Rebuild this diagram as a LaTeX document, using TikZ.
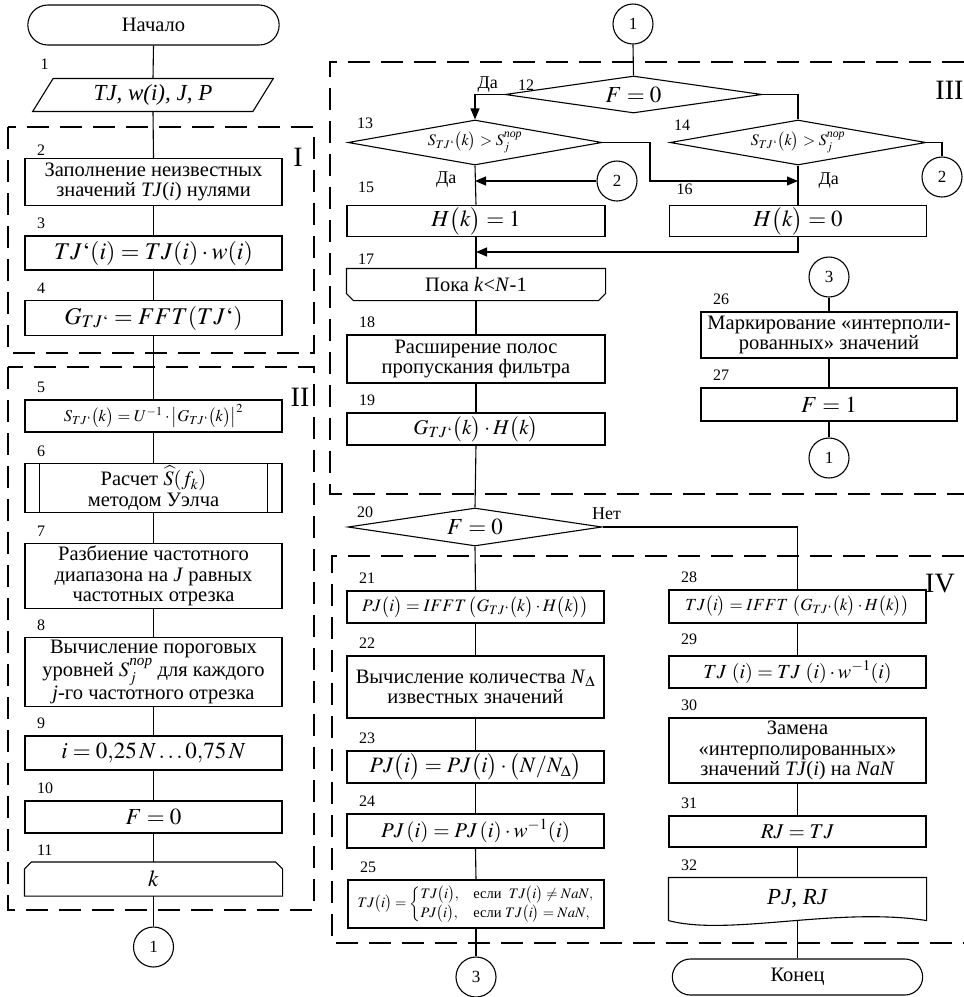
\documentclass[tikz,border=0pt]{standalone}
\usepackage{amsmath}
\usepackage{mathptmx}
\usepackage{fontspec}
\setmainfont{Liberation Serif}
\usetikzlibrary{arrows.meta,shapes.geometric,shapes.misc,calc}

\newcommand{\fsText}{\fontsize{20.5}{20.5}\selectfont}
\newcommand{\fsMath}{\fontsize{23}{24}\selectfont}
\newcommand{\fsBig}{\fontsize{24}{25}\selectfont}
\newcommand{\fsNum}{\fontsize{16}{17}\selectfont}
\newcommand{\fsLab}{\fontsize{18}{19}\selectfont}
\newcommand{\fsConn}{\fontsize{17}{18}\selectfont}
\newcommand{\fsRom}{\fontsize{28}{30}\selectfont}

\begin{document}
\begin{tikzpicture}[
    x=1pt, y=-1pt,
    line width=1.1pt,
    >={Triangle[length=11pt,width=9pt]},
    box/.style={
        draw,
        rectangle,
        align=center,
        minimum width=257,
        inner sep=2pt,
        font=\fsText
    },
    term/.style={
        draw,
        rounded rectangle,
        minimum width=258,
        minimum height=40,
        font=\fsText
    },
    io/.style={
        draw,
        trapezium,
        trapezium left angle=65,
        trapezium right angle=115,
        trapezium stretches=true,
        minimum width=241,
        minimum height=33,
        font=\fsMath
    },
    cond/.style={
        draw,
        diamond,
        aspect=6,
        inner sep=0pt,
        font=\fsMath
    },
    conn/.style={draw, circle, minimum size=40, inner sep=0pt, font=\fsConn},
    frame/.style={dash pattern=on 22pt off 11pt},
    num/.style={font=\fsNum, inner sep=1pt, anchor=south west, xshift=11pt, yshift=5pt},
    nr/.style={label={[num]north west:#1}},
    lab/.style={font=\fsLab, inner sep=1pt},
    rom/.style={font=\fsRom, inner sep=0pt},
    arrow/.style={->}
]

\useasboundingbox (0,0) rectangle (964,997);

% ============================================================
% Frames of the stages
% ============================================================

\draw[frame] (8,127) rectangle (314,353);
\draw[frame] (8,367) rectangle (314,910);
\draw[frame] (964,62) -- (330,62) -- (330,494) -- (964,494);
\draw[frame] (964,556) -- (332,556) -- (332,943) -- (964,943);

\node[rom] (stI)   at (298,157) {I};
\node[rom] (stII)  at (300,397) {II};
\node[rom, anchor=east] (stIII) at (964,90) {III};
\node[rom] (stIV)  at (940,584) {IV};

% ============================================================
% Left column: preparation
% ============================================================

\node[term] (start) at (153.5,25) {Начало};

\node[io, label={[num, xshift=-125pt, yshift=2pt]north:1}] (inp) at (153,95)
    {\textit{TJ, w(i), J, P}};

\node[box, minimum height=47, label={[num, yshift=-4pt]north west:2}] (b2) at (153.5,182)
    {Заполнение неизвестных\\значений \textit{TJ}(\textit{i}) нулями};

\node[box, minimum height=34, font=\fsBig, nr=3] (b3) at (153.5,253)
    {$TJ`(i) = TJ(i)\cdot w(i)$};

\node[box, minimum height=35, font=\fsBig, nr=4] (b4) at (153.5,318)
    {$G_{TJ`} = FFT(TJ`)$};

\node[box, minimum height=32, font=\fontsize{16.5}{18}\selectfont, nr=5] (b5) at (153.5,416)
    {$S_{TJ`}\bigl(k\bigr) = U^{-1}\cdot\bigl|G_{TJ`}\bigl(k\bigr)\bigr|^2$};

\node[box, minimum height=47, nr=6] (b6) at (153.5,488)
    {Расчет $\widehat{S}(f_k)$\\методом Уэлча};

\node[box, minimum height=65, nr=7] (b7) at (153.5,576)
    {Разбиение частотного\\диапазона на \textit{J} равных\\частотных отрезка};

\node[box, minimum height=63, nr=8] (b8) at (153.5,672)
    {Вычисление пороговых\\уровней $S_j^{\textit{пор}}$ для каждого\\\textit{j}-го частотного отрезка};

\node[box, minimum height=34, font=\fsMath, nr=9] (b9) at (153.5,753)
    {$i = 0{,}25\,N \ldots 0{,}75\,N$};

\node[box, minimum height=32, font=\fsMath, nr=10] (b10) at (153.5,817)
    {$F = 0$};

\node[box, draw=none, minimum height=33, font=\fsMath, nr=11] (b11) at (153.5,879)
    {$k$};

\node[conn] (c1a) at (153.5,947) {1};

% predefined process and loop end outlines
\draw ([xshift=15pt]b6.north west) -- ([xshift=15pt]b6.south west);
\draw ([xshift=-15pt]b6.north east) -- ([xshift=-15pt]b6.south east);
\draw ([xshift=7pt]b11.north west) -- ([xshift=-7pt]b11.north east)
    -- ([yshift=-7pt]b11.north east) -- (b11.south east)
    -- (b11.south west) -- ([yshift=-7pt]b11.north west) -- cycle;

\draw (start.south) -- (inp.north);
\draw (inp.south) -- (b2.north);
\draw (b2.south) -- (b3.north);
\draw (b3.south) -- (b4.north);
\draw (b4.south) -- (b5.north);
\draw (b5.south) -- (b6.north);
\draw (b6.south) -- (b7.north);
\draw (b7.south) -- (b8.north);
\draw (b8.south) -- (b9.north);
\draw (b9.south) -- (b10.north);
\draw (b10.south) -- (b11.north);
\draw (b11.south) -- (c1a.north);

% ============================================================
% Stage III: filter construction
% ============================================================

\node[conn] (c1top) at (633,24) {1};

\node[cond, minimum width=257, minimum height=37,
    label={[num, xshift=1pt, yshift=-3pt]west:12},
    label={[lab, anchor=south east, xshift=-5pt, yshift=1pt]west:Да}] (d12) at (633.5,94.5)
    {$F = 0$};

\node[cond, minimum width=254, minimum height=45, font=\fontsize{16}{17}\selectfont,
    label={[num, xshift=-3pt, yshift=7pt]west:13},
    label={[lab, anchor=north east, xshift=-17pt, yshift=-5pt]south:Да}] (d13) at (475,142.5)
    {$S_{TJ`}\bigl(k\bigr) > S_j^{\textit{пор}}$};

\node[cond, minimum width=256, minimum height=45, font=\fontsize{16}{17}\selectfont,
    label={[num, xshift=-8pt, yshift=5pt]west:14},
    label={[lab, anchor=north west, xshift=19pt, yshift=-6pt]south:Да}] (d14) at (798,142.5)
    {$S_{TJ`}\bigl(k\bigr) > S_j^{\textit{пор}}$};

\node[conn] (c2a) at (617,181) {2};
\node[conn] (c2b) at (942,177) {2};

\node[box, minimum width=258, minimum height=30, font=\fsMath,
    label={[num, xshift=-1pt, yshift=5pt]north west:15}] (b15) at (476,221)
    {$H\bigl(k\bigr) = 1$};

\node[box, minimum height=30, font=\fsMath,
    label={[num, xshift=-5pt, yshift=3pt]north west:16}] (b16) at (798,221)
    {$H\bigl(k\bigr) = 0$};

\node[box, draw=none, minimum width=258, minimum height=31,
    label={[num, xshift=-1pt, yshift=-3pt]north west:17}] (b17) at (476,284.5)
    {Пока \textit{k}<\textit{N}-1};

\node[box, minimum width=258, minimum height=48, nr=18] (b18) at (476,359)
    {Расширение полос\\пропускания фильтра};

\node[box, minimum width=258, minimum height=32, font=\fontsize{21}{22}\selectfont, nr=19] (b19) at (476,429)
    {$G_{TJ`}\bigl(k\bigr)\cdot H\bigl(k\bigr)$};

\coordinate (j13) at (650,181);
\coordinate (j16) at (476,252);

% loop start outline
\draw (b17.north west) -- (b17.north east)
    -- ([yshift=7pt]b17.south east) -- ([xshift=-7pt]b17.south east)
    -- ([xshift=7pt]b17.south west) -- ([yshift=7pt]b17.south west) -- cycle;

\draw (c1top.south) -- (d12.north);
\draw[arrow] (d12.west) -| (d13.north);
\draw (d12.east) -| (d14.north);
\draw (d13.south) -- (b15.north);
\draw[arrow] (c2a.west) -- (c2a.west -| d13.south);
\draw[arrow] (d13.east) -| (j13) -- (j13 -| d14.south);
\draw (d14.south) -- (b16.north);
\draw (d14.east) -| (c2b.north);
\draw (b15.south) -- (b17.north);
\draw[arrow] (b16.south) |- (j16);
\draw (b17.south) -- (b18.north);
\draw (b18.south) -- (b19.north);

% Marking branch
\node[conn] (c3b) at (829,277) {3};

\node[box, minimum width=256, minimum height=46, nr=26] (b26) at (829,335)
    {Маркирование «интерполи-\\рованных» значений};

\node[box, minimum width=256, minimum height=33, font=\fsMath, nr=27] (b27) at (829,404.5)
    {$F = 1$};

\node[conn] (c1b) at (829,458) {1};

\draw (c3b.south) -- (b26.north);
\draw (b26.south) -- (b27.north);
\draw (b27.south) -- (c1b.north);

% ============================================================
% Stage IV: restoration
% ============================================================

\node[cond, minimum width=254, minimum height=38,
    label={[num, xshift=-3pt, yshift=3pt]west:20},
    label={[lab, anchor=south east, xshift=20pt, yshift=6pt]east:Нет}] (d20) at (475,527)
    {$F = 0$};

\draw (b19.south) -- (d20.north);

% left branch
\node[box, minimum height=32, font=\fontsize{17.5}{18}\selectfont, nr=21] (b21) at (475.5,607)
    {$PJ\bigl(i\bigr) = IFFT\,\bigl(G_{TJ`}\bigl(k\bigr)\cdot H\bigl(k\bigr)\bigr)$};

\node[box, minimum height=62, nr=22] (b22) at (475.5,687)
    {Вычисление количества \textit{N}$_\Delta$\\известных значений};

\node[box, minimum height=32, font=\fontsize{22}{23}\selectfont, nr=23] (b23) at (475.5,767)
    {$PJ\bigl(i\bigr) = PJ\bigl(i\bigr)\cdot\bigl(N/N_\Delta\bigr)$};

\node[box, minimum height=34, font=\fontsize{21}{22}\selectfont, nr=24] (b24) at (475.5,831)
    {$PJ\,(i) = PJ\,(i)\cdot w^{-1}(i)$};

\node[box, minimum width=256, minimum height=48, font=\fontsize{14.5}{16}\selectfont, nr=25] (b25) at (476,904)
    {$TJ\bigl(i\bigr) = \begin{cases}
        TJ\bigl(i\bigr), & \text{если}\ \ TJ\bigl(i\bigr) \neq NaN,\\
        PJ\bigl(i\bigr), & \text{если}\ TJ\bigl(i\bigr) = NaN,
     \end{cases}$};

\node[conn] (c3a) at (476,977) {3};

\draw (d20.south) -- (b21.north);
\draw (b21.south) -- (b22.north);
\draw (b22.south) -- (b23.north);
\draw (b23.south) -- (b24.north);
\draw (b24.south) -- (b25.north);
\draw (b25.south) -- (c3a.north);

% right branch
\node[box, minimum height=33, font=\fontsize{17}{18}\selectfont, nr=28] (b28) at (797.5,606.5)
    {$TJ\bigl(i\bigr) = IFFT\ \bigl(G_{TJ`}\bigl(k\bigr)\cdot H\bigl(k\bigr)\bigr)$};

\node[box, minimum height=32, font=\fontsize{20}{21}\selectfont,
    label={[num, yshift=4pt]north west:29}] (b29) at (797.5,672)
    {$TJ\ (i) = TJ\ (i)\cdot w^{-1}(i)$};

\node[box, minimum height=65, nr=30] (b30) at (797.5,750.5)
    {Замена\\«интерполированных»\\значений \textit{TJ}(\textit{i}) на \textit{NaN}};

\node[box, minimum height=31, font=\fontsize{21}{22}\selectfont, nr=31] (b31) at (797.5,831.5)
    {$RJ = TJ$};

\node[box, draw=none, minimum height=42, font=\fsMath, nr=32] (b32) at (797.5,899)
    {\textit{PJ, RJ}};

\node[term, minimum width=257, minimum height=36] (finish) at (797.5,977)
    {Конец};

% document outline
\draw (b32.south west) -- (b32.north west) -- (b32.north east) -- (b32.south east)
    .. controls ([xshift=-90pt,yshift=14pt]b32.south east)
    and ([xshift=60pt,yshift=-16pt]b32.south west) .. (b32.south west);

\draw (d20.east) -| (b28.north);
\draw (b28.south) -- (b29.north);
\draw (b30.south) -- (b31.north);
\draw (b31.south) -- (b32.north);
\draw (b32.south) -- (finish.north);

\end{tikzpicture}
\end{document}
